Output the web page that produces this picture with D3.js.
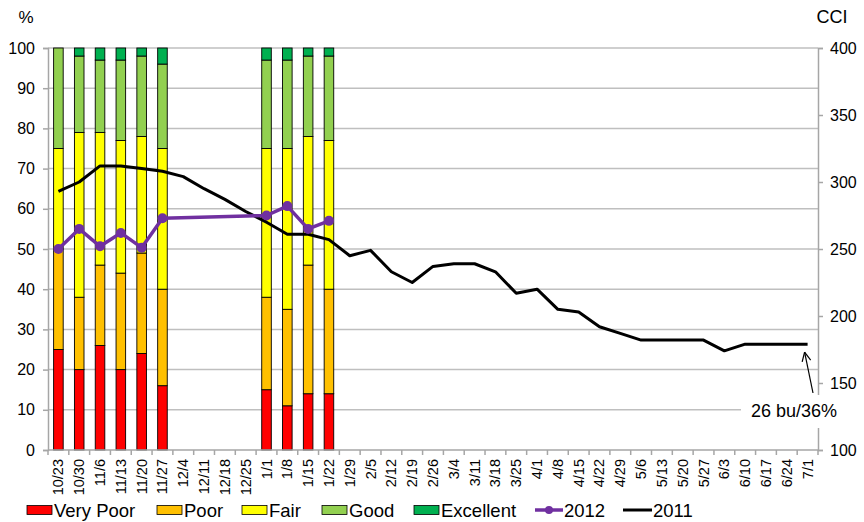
<!DOCTYPE html>
<html>
<head>
<meta charset="utf-8">
<script src="https://cdn.jsdelivr.net/npm/d3@7"></script>
<style>
  body { margin: 0; background: #fff; }
  svg text { font-family: "Liberation Sans", Arial, sans-serif; fill: #000; }
</style>
</head>
<body>
<svg width="864" height="522"></svg>
<script>
var weeks = ["10/23","10/30","11/6","11/13","11/20","11/27","12/4","12/11","12/18","12/25",
  "1/1","1/8","1/15","1/22","1/29","2/5","2/12","2/19","2/26","3/4","3/11","3/18","3/25",
  "4/1","4/8","4/15","4/22","4/29","5/6","5/13","5/20","5/27","6/3","6/10","6/17","6/24","7/1"];

var ratings = ["Very Poor","Poor","Fair","Good","Excellent"];
var ratingColors = ["#ff0000","#ffc000","#ffff00","#92d050","#00b050"];

// condition % per week (2012 season), null = no report
var veryPoor  = [25,20,26,20,24,16,null,null,null,null,15,11,14,14];
var poor      = [25,18,20,24,25,24,null,null,null,null,23,24,32,26];
var fair      = [25,41,33,33,29,35,null,null,null,null,37,40,32,37];
var good      = [25,19,18,20,20,21,null,null,null,null,22,22,20,21];
var excellent = [0, 2, 3, 3, 2, 4, null,null,null,null,3, 3, 2, 2];

// crop condition index
var cci2012 = [250,265,252,262,251,273,null,null,null,null,275,282,265,271];
var cci2011 = [293,300,312,312,310,308,304,295,287,278,270,261,261,257,245,249,233,225,237,239,
  239,233,217,220,205,203,192,187,182,182,182,182,174,179,179,179,179];

var svg = d3.select("svg"),
    pLeft = 48, pRight = 818, pTop = 48, pBottom = 450;

var x = d3.scaleBand().domain(weeks).range([pLeft, pRight]).paddingInner(0.54).paddingOuter(0.27);
var y = d3.scaleLinear().domain([0, 100]).range([pBottom, pTop]);
var y2 = d3.scaleLinear().domain([100, 400]).range([pBottom, pTop]);
var cx = function(w) { return x(w) + x.bandwidth() / 2; };

// gridlines
svg.append("g").selectAll("line").data(d3.range(10, 101, 10)).join("line")
    .attr("x1", pLeft).attr("x2", pRight)
    .attr("y1", y).attr("y2", y)
    .attr("stroke", "#bfbfbf").attr("stroke-width", 1.5);

// stacked bars
var table = [];
veryPoor.forEach(function(v, i) {
  if (v == null) return;
  table.push({week: weeks[i], "Very Poor": v, "Poor": poor[i], "Fair": fair[i], "Good": good[i], "Excellent": excellent[i]});
});
var stack = d3.stack().keys(ratings)(table);

svg.append("g").selectAll("g").data(stack).join("g")
    .attr("fill", function(d, i) { return ratingColors[i]; })
  .selectAll("rect").data(function(d) { return d.filter(function(p) { return p[1] > p[0]; }); }).join("rect")
    .attr("x", function(d) { return x(d.data.week); })
    .attr("width", x.bandwidth())
    .attr("y", function(d) { return y(d[1]); })
    .attr("height", function(d) { return y(d[0]) - y(d[1]); })
    .attr("stroke", "#000").attr("stroke-width", 0.9);

// axes
var axisColor = "#a6a6a6";
var gl = svg.append("g").attr("transform", "translate(" + pLeft + ",0)")
    .call(d3.axisLeft(y).tickValues(d3.range(0, 101, 10)).tickSize(5).tickPadding(8));
var gr = svg.append("g").attr("transform", "translate(" + pRight + ",0)")
    .call(d3.axisRight(y2).tickValues(d3.range(100, 401, 50)).tickSize(5).tickPadding(7));
[gl, gr].forEach(function(g) {
  g.select(".domain").attr("stroke", axisColor).attr("stroke-width", 1.5);
  g.selectAll(".tick line").attr("stroke", axisColor).attr("stroke-width", 1.5);
  g.selectAll("text").style("font-size", "16px").style("font-family", "Liberation Sans, Arial, sans-serif");
});

var gb = svg.append("g").attr("transform", "translate(0," + pBottom + ")");
gb.append("line").attr("x1", pLeft).attr("x2", pRight)
    .attr("stroke", axisColor).attr("stroke-width", 1.5);
gb.selectAll("line.tk").data(d3.range(weeks.length + 1)).join("line").attr("class", "tk")
    .attr("x1", function(i) { return pLeft + i * x.step(); })
    .attr("x2", function(i) { return pLeft + i * x.step(); })
    .attr("y1", 0).attr("y2", 5)
    .attr("stroke", axisColor).attr("stroke-width", 1.5);
gb.selectAll("text").data(weeks).join("text")
    .attr("transform", function(w) { return "translate(" + (cx(w) + 5) + ",9) rotate(-90)"; })
    .attr("text-anchor", "end")
    .style("font-size", "14.5px")
    .text(function(w) { return w; });

// lines
var lineGen = d3.line().x(function(d) { return cx(d.week); }).y(function(d) { return y2(d.v); });
var pts2011 = cci2011.map(function(v, i) { return {week: weeks[i], v: v}; });
var pts2012 = cci2012.map(function(v, i) { return {week: weeks[i], v: v}; })
    .filter(function(d) { return d.v != null; });

svg.append("path").datum(pts2011).attr("d", lineGen)
    .attr("fill", "none").attr("stroke", "#000").attr("stroke-width", 3)
    .attr("stroke-linejoin", "round");

svg.append("path").datum(pts2012).attr("d", lineGen)
    .attr("fill", "none").attr("stroke", "#7030a0").attr("stroke-width", 3.5)
    .attr("stroke-linejoin", "round");
svg.append("g").selectAll("circle").data(pts2012).join("circle")
    .attr("cx", function(d) { return cx(d.week); })
    .attr("cy", function(d) { return y2(d.v); })
    .attr("r", 5).attr("fill", "#7030a0");

// axis titles
svg.append("text").attr("x", 26).attr("y", 23).attr("text-anchor", "middle")
    .style("font-size", "17px").text("%");
svg.append("text").attr("x", 832).attr("y", 23).attr("text-anchor", "middle")
    .style("font-size", "18px").text("CCI");

// annotation
var lastWeek = weeks[weeks.length - 1];
var ax = cx(lastWeek) - 3, ay = y2(cci2011[cci2011.length - 1]) + 8;
svg.append("rect").attr("x", 741).attr("y", 395).attr("width", 104).attr("height", 33).attr("fill", "#fff");
svg.append("text").attr("x", 751).attr("y", 417).style("font-size", "18px").text("26 bu/36%");
svg.append("line").attr("x1", 813).attr("y1", 393).attr("x2", ax).attr("y2", ay)
    .attr("stroke", "#000").attr("stroke-width", 1.2);
var ang = Math.atan2(393 - ay, 813 - ax);
[0.45, -0.45].forEach(function(da) {
  svg.append("line").attr("x1", ax).attr("y1", ay)
      .attr("x2", ax + 10 * Math.cos(ang + da)).attr("y2", ay + 10 * Math.sin(ang + da))
      .attr("stroke", "#000").attr("stroke-width", 1.2);
});

// legend
var leg = svg.append("g").attr("transform", "translate(0,510)");
var legX = [27, 157, 242, 322, 414];
ratings.forEach(function(r, i) {
  leg.append("rect").attr("x", legX[i]).attr("y", -4.5).attr("width", 25).attr("height", 9)
      .attr("fill", ratingColors[i]).attr("stroke", "#000").attr("stroke-width", 0.8);
  leg.append("text").attr("x", legX[i] + 27).attr("y", 6.5).style("font-size", "18.5px").text(r);
});
leg.append("line").attr("x1", 535).attr("x2", 563).attr("stroke", "#7030a0").attr("stroke-width", 3.5);
leg.append("circle").attr("cx", 549).attr("cy", 0).attr("r", 4).attr("fill", "#7030a0");
leg.append("text").attr("x", 564).attr("y", 6.5).style("font-size", "18.5px").text("2012");
leg.append("line").attr("x1", 623).attr("x2", 652).attr("stroke", "#000").attr("stroke-width", 3);
leg.append("text").attr("x", 653).attr("y", 6.5).style("font-size", "18.5px").text("2011");
</script>
</body>
</html>
